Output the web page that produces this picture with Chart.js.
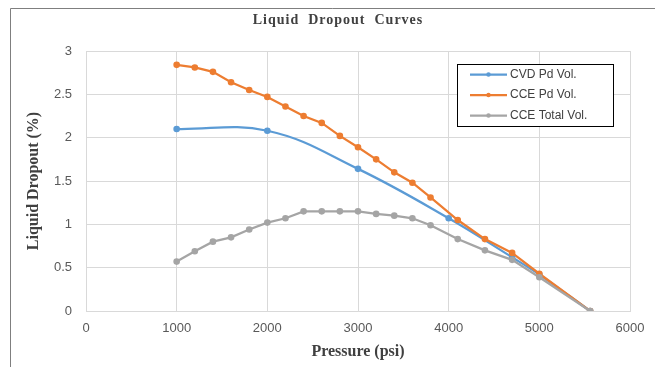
<!DOCTYPE html>
<html>
<head>
<meta charset="utf-8">
<script src="https://cdn.jsdelivr.net/npm/chart.js@4/dist/chart.umd.min.js"></script>
<style>
  html, body { margin: 0; padding: 0; background: #fff; }
  #wrap { width: 655px; height: 367px; }
</style>
</head>
<body>
<div id="wrap"><canvas id="dropoutChart" width="655" height="367"></canvas></div>
<script>
// ===== DATA =====
const cvdPressure = [1000, 2000, 3000, 4000, 4700, 5000, 5560];
const cvdPdVol = [2.10, 2.08, 1.64, 1.07, 0.62, 0.42, 0];

const ccePressure = [1000, 1200, 1400, 1600, 1800, 2000, 2200, 2400, 2600, 2800, 3000,
                     3200, 3400, 3600, 3800, 4100, 4400, 4700, 5000, 5560];
const ccePdVol = [2.84, 2.81, 2.76, 2.64, 2.55, 2.47, 2.36, 2.25, 2.17, 2.02, 1.89,
                  1.75, 1.60, 1.48, 1.31, 1.05, 0.83, 0.67, 0.43, 0];
const cceTotalVol = [0.57, 0.69, 0.80, 0.85, 0.94, 1.02, 1.07, 1.15, 1.15, 1.15, 1.15,
                     1.12, 1.10, 1.07, 0.99, 0.83, 0.70, 0.59, 0.39, 0];

const seriesLabels = ['CVD Pd Vol.', 'CCE Pd Vol.', 'CCE Total Vol.'];
const seriesColors = ['#5b9bd5', '#ed7d31', '#a5a5a5'];

const toPoints = (xs, ys) => xs.map((x, i) => ({ x: x, y: ys[i] }));

// ===== FRAME, TITLE AND LEGEND =====
const framePlugin = {
    id: 'frame',
    afterDraw(chart) {
        const ctx = chart.ctx;
        ctx.save();
        ctx.strokeStyle = '#7f7f7f';
        ctx.lineWidth = 1;
        ctx.beginPath();
        ctx.moveTo(10.5, 367);
        ctx.lineTo(10.5, 8.5);
        ctx.lineTo(655, 8.5);
        ctx.stroke();

        // title
        ctx.fillStyle = '#404040';
        ctx.font = 'bold 14px "Liberation Serif"';
        ctx.letterSpacing = '1px';
        ctx.textAlign = 'center';
        ctx.textBaseline = 'middle';
        ctx.fillText('Liquid  Dropout  Curves', 338, 20);
        ctx.letterSpacing = '0px';

        // legend box
        const bx = 457.5, by = 64.5, bw = 156, bh = 62;
        ctx.fillStyle = '#fff';
        ctx.fillRect(bx, by, bw, bh);
        ctx.strokeStyle = '#000';
        ctx.strokeRect(bx, by, bw, bh);
        ctx.font = '12px "Liberation Sans"';
        ctx.textAlign = 'left';
        seriesLabels.forEach((label, i) => {
            const y = 74.5 + i * 20.5;
            ctx.strokeStyle = seriesColors[i];
            ctx.lineWidth = 2.25;
            ctx.beginPath();
            ctx.moveTo(470, y);
            ctx.lineTo(507, y);
            ctx.stroke();
            ctx.fillStyle = seriesColors[i];
            ctx.beginPath();
            ctx.arc(488.5, y, 2.2, 0, Math.PI * 2);
            ctx.fill();
            ctx.fillStyle = '#404040';
            ctx.fillText(label, 510, y);
        });
        ctx.restore();
    }
};

// ===== CHART =====
const chartCtx = document.getElementById('dropoutChart');
new Chart(chartCtx, {
    type: 'line',
    data: {
        datasets: [{
            label: seriesLabels[0],
            data: toPoints(cvdPressure, cvdPdVol),
            borderColor: seriesColors[0],
            backgroundColor: seriesColors[0],
            borderWidth: 2.25,
            pointRadius: 2.2,
            tension: 0.4,
            order: 2
        }, {
            label: seriesLabels[1],
            data: toPoints(ccePressure, ccePdVol),
            borderColor: seriesColors[1],
            backgroundColor: seriesColors[1],
            borderWidth: 2.25,
            pointRadius: 2.2,
            tension: 0,
            order: 1
        }, {
            label: seriesLabels[2],
            data: toPoints(ccePressure, cceTotalVol),
            borderColor: seriesColors[2],
            backgroundColor: seriesColors[2],
            borderWidth: 2.25,
            pointRadius: 2.2,
            tension: 0,
            order: 0
        }]
    },
    options: {
        responsive: false,
        animation: false,
        layout: {
            padding: { top: 51, right: 25, bottom: 0, left: 10 }
        },
        plugins: {
            legend: { display: false },
            title: { display: false },
            tooltip: { enabled: false }
        },
        scales: {
            x: {
                type: 'linear',
                min: 0,
                max: 6000,
                afterFit: function(scale) { scale.height = 56; },
                grid: { color: '#d9d9d9', drawTicks: false },
                border: { color: '#d9d9d9' },
                ticks: {
                    stepSize: 1000,
                    padding: 10,
                    color: '#595959',
                    font: { family: 'Liberation Sans', size: 13 },
                    maxRotation: 0,
                    callback: function(value) { return String(value); }
                },
                title: {
                    display: true,
                    text: 'Pressure (psi)',
                    color: '#404040',
                    font: { family: 'Liberation Serif', size: 16, weight: 'bold' },
                    padding: { top: 0, bottom: 6 }
                }
            },
            y: {
                min: 0,
                max: 3,
                afterFit: function(scale) { scale.width = 76; },
                grid: { color: '#d9d9d9', drawTicks: false },
                border: { color: '#d9d9d9' },
                ticks: {
                    stepSize: 0.5,
                    padding: 14,
                    color: '#595959',
                    font: { family: 'Liberation Sans', size: 13 },
                    callback: function(value) { return String(value); }
                },
                title: {
                    display: true,
                    text: 'Liquid Dropout (%)',
                    color: '#404040',
                    font: { family: 'Liberation Serif', size: 16, weight: 'bold' },
                    padding: { top: 14, bottom: 0 }
                }
            }
        }
    },
    plugins: [framePlugin]
});
</script>
</body>
</html>
